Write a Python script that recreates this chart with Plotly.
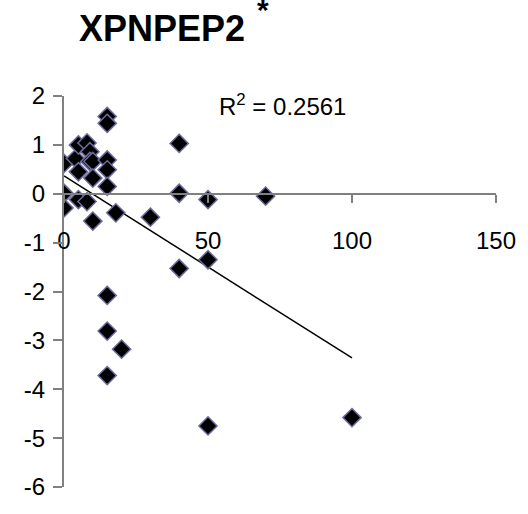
import numpy as np
import plotly.graph_objects as go

# Data
x_vals = [0, 0, 0,
          4, 5, 5, 5,
          8, 8, 9, 9,
          10, 10, 10,
          15, 15, 15, 15, 15,
          18,
          15, 15, 15, 20,
          30,
          40, 40, 40,
          50, 50, 50,
          70, 100]
y_vals = [0.62, 0.01, -0.29,
          0.72, 1.00, 0.45, -0.12,
          1.04, -0.16, 0.86, 0.66,
          0.66, 0.32, -0.56,
          1.58, 1.44, 0.69, 0.49, 0.15,
          -0.39,
          -2.08, -2.81, -3.72, -3.18,
          -0.48,
          1.03, 0.01, -1.53,
          -0.12, -1.35, -4.75,
          -0.05, -4.58]

title_text = "XPNPEP2"
r2_text = "R<sup>2</sup> = 0.2561"
x_ticks = [0, 50, 100, 150]
y_ticks = [-6, -5, -4, -3, -2, -1, 0, 1, 2]

xa = np.array(x_vals, dtype=float)
ya = np.array(y_vals, dtype=float)
slope, intercept = np.polyfit(xa, ya, 1)
tx = np.array([xa.min(), xa.max()])
ty = slope * tx + intercept

fig = go.Figure()
fig.add_trace(go.Scatter(
    x=tx, y=ty, mode="lines",
    line=dict(color="black", width=1.5),
    showlegend=False, hoverinfo="skip"))
fig.add_trace(go.Scatter(
    x=x_vals, y=y_vals, mode="markers",
    marker=dict(symbol="diamond", size=14, color="black",
                line=dict(color="#6b6b9e", width=1.5)),
    showlegend=False))

FONT = "Liberation Sans, Arial, sans-serif"

fig.update_layout(
    width=528, height=514,
    margin=dict(l=64, r=26, t=96, b=27),
    paper_bgcolor="white", plot_bgcolor="white",
    font=dict(family=FONT, size=24, color="black"),
    xaxis=dict(range=[0, 150], tickvals=x_ticks,
               ticktext=[str(v) for v in x_ticks], ticks="outside",
               ticklen=8, tickwidth=2, tickcolor="#808080",
               showline=True, linecolor="#808080", linewidth=2,
               showgrid=False, zeroline=False,
               anchor="free", position=0.75, ticklabelstandoff=17,
               tickfont=dict(size=24, family=FONT)),
    yaxis=dict(range=[-6, 2], tickvals=y_ticks,
               ticktext=[str(v) for v in y_ticks], ticks="outside",
               ticklen=9, tickwidth=2, tickcolor="#808080",
               showline=True, linecolor="#808080", linewidth=2,
               showgrid=False, zeroline=False, ticklabelstandoff=3,
               tickfont=dict(size=24, family=FONT)),
    annotations=[
        dict(text="<b>" + title_text + "</b>", xref="paper", yref="paper",
             x=(77 - 64) / 438, y=1 + (96 - 28) / 391, xanchor="left", yanchor="middle",
             showarrow=False, font=dict(size=36, family=FONT, color="black")),
        dict(text="<b>*</b>", xref="paper", yref="paper",
             x=(266 - 64) / 438, y=1 + (96 - 9) / 391, xanchor="center", yanchor="middle",
             showarrow=False, font=dict(size=30, family=FONT, color="black")),
        dict(text=r2_text, xref="x", yref="y", x=53, y=1.82,
             xanchor="left", yanchor="middle", showarrow=False,
             font=dict(size=24, family=FONT, color="black")),
    ],
)

fig.write_html("out.html")
